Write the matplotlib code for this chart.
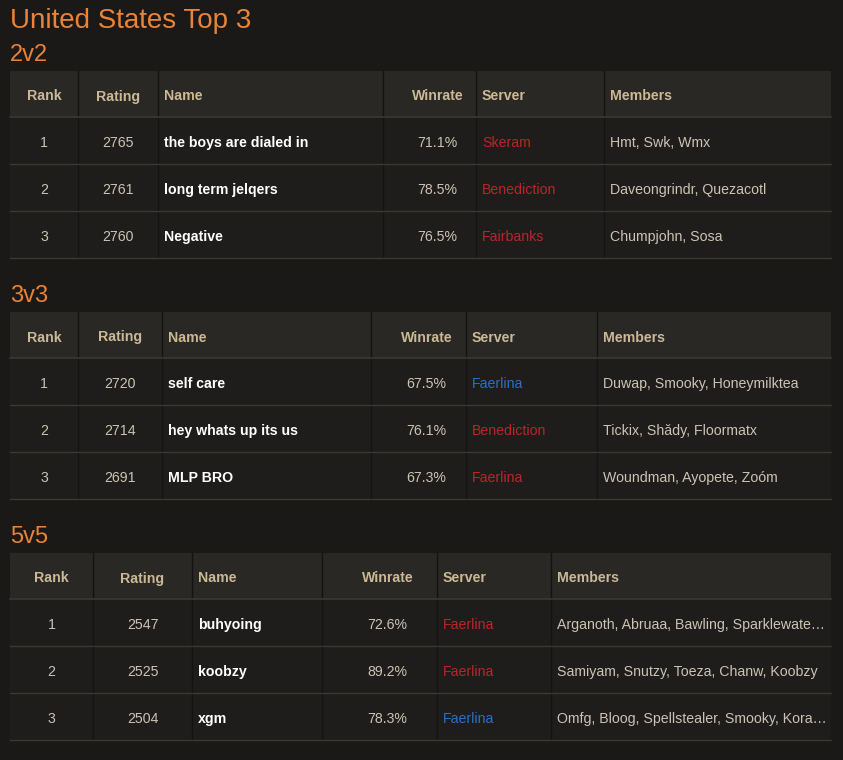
import matplotlib
matplotlib.use("Agg")
import matplotlib.pyplot as plt
from matplotlib.patches import Rectangle

title = "United States Top 3"
brackets = ["2v2", "3v3", "5v5"]
headers = ["Rank", "Rating", "Name", "Winrate", "Server", "Members"]
ranks = [[1, 2, 3], [1, 2, 3], [1, 2, 3]]
ratings = [[2765, 2761, 2760], [2720, 2714, 2691], [2547, 2525, 2504]]
names = [["the boys are dialed in", "long term jelqers", "Negative"],
         ["self care", "hey whats up its us", "MLP BRO"],
         ["buhyoing", "koobzy", "xgm"]]
winrates = [[71.1, 78.5, 76.5], [67.5, 76.1, 67.3], [72.6, 89.2, 78.3]]
servers = [["Skeram", "Benediction", "Fairbanks"],
           ["Faerlina", "Benediction", "Faerlina"],
           ["Faerlina", "Faerlina", "Faerlina"]]
factions = [["horde", "horde", "horde"],
            ["alliance", "horde", "horde"],
            ["horde", "horde", "alliance"]]
members = [["Hmt, Swk, Wmx", "Daveongrindr, Quezacotl", "Chumpjohn, Sosa"],
           ["Duwap, Smooky, Honeymilktea", "Tickix, Shădy, Floormatx", "Woundman, Ayopete, Zoóm"],
           ["Arganoth, Abruaa, Bawling, Sparklewate…", "Samiyam, Snutzy, Toeza, Chanw, Koobzy",
            "Omfg, Bloog, Spellstealer, Smooky, Kora…"]]

# layout (pixels)
tops = [71, 312, 553]
label_y = [55, 296, 537]
col_edges = [[10, 78, 158, 383, 476, 604, 831],
             [10, 78, 162, 371, 466, 597, 831],
             [10, 93, 192, 322, 437, 551, 831]]
aligns = ["center", "center", "left", "center", "left", "left"]
HH, RH = 46, 47

BG = "#1b1917"
HEAD_BG = "#2a2825"
ROW_BG = "#1f1d1b"
ORANGE = "#e8833a"
HEAD_TXT = "#cbb995"
TXT = "#cdc3b3"
RED = "#b8262a"
BLUE = "#2b6fc6"
LINE = "#3a3834"
FONT = "Liberation Sans"
FS = 10.2

fig = plt.figure(figsize=(8.43, 7.60), dpi=100, facecolor=BG)
ax = fig.add_axes([0, 0, 1, 1])
ax.set_xlim(0, 843)
ax.set_ylim(760, 0)
ax.axis("off")
ax.set_facecolor(BG)

ax.text(10, 21, title, color=ORANGE, fontsize=20, va="center", ha="left", family=FONT)

def xpos(edges, i):
    if aligns[i] == "center":
        return (edges[i] + edges[i + 1]) / 2 + (8 if i == 3 else 0)
    return edges[i] + 6

for t in range(3):
    e = col_edges[t]
    top = tops[t]
    ax.text(10, label_y[t], brackets[t], color=ORANGE, fontsize=17, va="center", ha="left", family=FONT)
    ax.add_patch(Rectangle((e[0], top), e[-1] - e[0], HH, color=HEAD_BG, lw=0))
    ax.add_patch(Rectangle((e[0], top + HH), e[-1] - e[0], 3 * RH, color=ROW_BG, lw=0))
    for x in e[1:-1]:
        ax.plot([x, x], [top, top + HH + 3 * RH], color="#151312", lw=1)
    ax.plot([e[0], e[-1]], [top + HH, top + HH], color=LINE, lw=1.2)
    for r in range(3):
        yb = top + HH + (r + 1) * RH
        ax.plot([e[0], e[-1]], [yb, yb], color=LINE, lw=1)
    for i, h in enumerate(headers):
        ax.text(xpos(e, i), top + HH / 2 + 1, h, color=HEAD_TXT, fontsize=FS, weight="bold",
                ha=aligns[i], va="center_baseline", family=FONT)
    for r in range(3):
        yc = top + HH + r * RH + RH / 2
        vals = [str(ranks[t][r]), str(ratings[t][r]), names[t][r],
                f"{winrates[t][r]:.1f}%", servers[t][r], members[t][r]]
        for i, v in enumerate(vals):
            color, weight = TXT, "normal"
            if i == 2:
                color, weight = "white", "bold"
            elif i == 4:
                color = BLUE if factions[t][r] == "alliance" else RED
            ax.text(xpos(e, i), yc + 1, v, color=color, fontsize=FS, weight=weight,
                    ha=aligns[i], va="center_baseline", family=FONT)

fig.savefig("out.png", dpi=100, facecolor=BG)
